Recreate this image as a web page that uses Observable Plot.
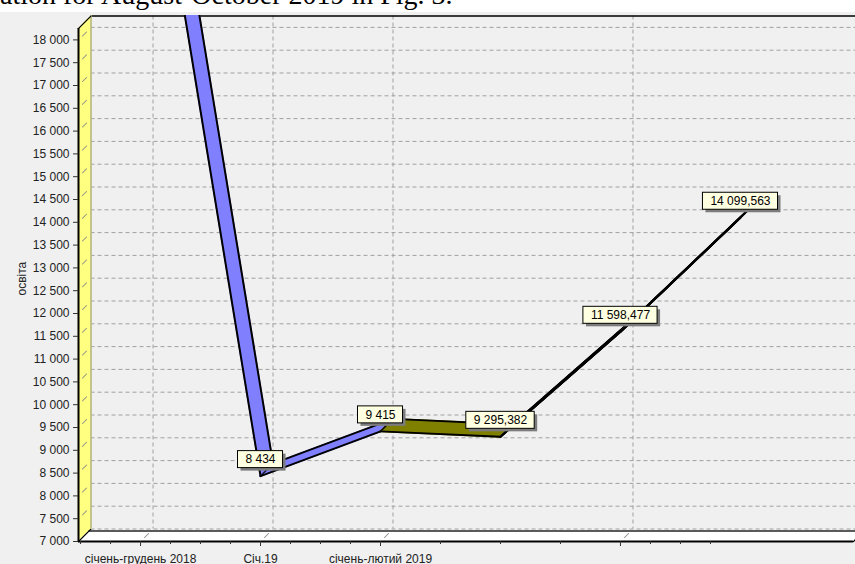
<!DOCTYPE html>
<html><head><meta charset="utf-8">
<script src="https://cdn.jsdelivr.net/npm/d3@7"></script>
<script src="https://cdn.jsdelivr.net/npm/@observablehq/plot@0.6"></script>
<style>
html,body{margin:0;padding:0;background:#f0f0f0;width:855px;height:564px;overflow:hidden}
#doc{height:12px;background:#fff;overflow:hidden;position:relative;margin-bottom:3px}
#doc span{position:absolute;left:0;top:-19.5px;font-size:28px;line-height:28px;font-family:"Liberation Serif","Times New Roman",serif;white-space:nowrap;color:#000}
#chart{width:855px;height:549px;overflow:hidden}
</style></head><body>
<div id="doc"><span>ation for August-October 2019 in Fig. 3.</span></div>
<div id="chart"></div>
<script>
// ---- data ----
const categories = ["січень-грудень 2018", "Січ.19", "січень-лютий 2019", "", "", ""];
const values = [24450, 8434, 9415, 9295.382, 11598.477, 14099.563];
const valueLabels = ["", "8 434", "9 415", "9 295,382", "11 598,477", "14 099,563"];
const segmentColors = ["#8080ff", "#8080ff", "#808000", "#3a3a3a", "#3a3a3a"];
const yTicks = [7000, 7500, 8000, 8500, 9000, 9500, 10000, 10500, 11000, 11500, 12000, 12500,
                13000, 13500, 14000, 14500, 15000, 15500, 16000, 16500, 17000, 17500, 18000];
const xGridTicks = [0, 1, 2, 4];
const xMinorTicks = [-0.5, -0.25, 0.25, 0.5, 0.75, 1.25, 1.5, 1.75, 2.5, 3, 3.5, 4.25, 4.5, 4.75];
const yTitle = "освіта";

// ---- setup ----
const points = values.map((v, i) => ({i, v, label: valueLabels[i]}));
const D = 12.5;                       // 3D depth in px
const X0 = -0.517, X1 = 5.942, Y0 = 7000, Y1 = 18250;
const steps = (max, step, min = 0) => d3.range(min, max + 1e-9, step);
const fmt = d => d3.format(",")(d).replace(/,/g, " ");
const grid = {stroke: "#a0a0a0", strokeDasharray: "4,3", strokeWidth: 1};
const marks = [];

// back wall gridlines
marks.push(Plot.ruleY(yTicks, {y: d => d, dx: D, dy: -D, ...grid}));
marks.push(Plot.ruleX(xGridTicks, {x: d => d, dx: D, dy: -D, ...grid}));
marks.push(Plot.ruleY([Y1], {dx: D, dy: -D, stroke: "#000", strokeWidth: 1.5}));

// left wall
for (const k of steps(D, 0.5)) marks.push(Plot.ruleX([X0], {dx: k, dy: -k, stroke: "#ffff80", strokeWidth: 1.5}));
marks.push(Plot.ruleX([X0], {dx: D, dy: -D, stroke: "#8a8a8a", strokeWidth: 1}));
for (const k of steps(8, 0.5, 4)) marks.push(Plot.dot(yTicks, {x: () => X0, y: d => d, r: 0.5, fill: "#8c8c8c", dx: k, dy: -k}));

// floor
for (const k of steps(10, 0.5)) marks.push(Plot.ruleY([Y0], {dx: k, dy: -k, stroke: "#fff", strokeWidth: 1.5}));
marks.push(Plot.ruleY([Y0], {dx: 10.5, dy: -10.5, stroke: "#5a5a5a", strokeWidth: 2}));
for (const k of steps(8, 0.5, 4)) marks.push(Plot.dot(xGridTicks, {x: d => d, y: () => Y0, r: 0.5, fill: "#8c8c8c", dx: k, dy: -k}));

// box corners
for (const k of steps(D, 1)) {
  marks.push(Plot.dot([[X0, Y1], [X0, Y0], [X1, Y0]], {x: d => d[0], y: d => d[1], r: 0.8, fill: "#000", dx: k, dy: -k}));
}

// series ribbons
for (let s = 0; s < points.length - 1; s++) {
  const seg = [points[s], points[s + 1]];
  const color = segmentColors[s];
  for (const k of steps(D, 0.5)) marks.push(Plot.line(seg, {x: "i", y: "v", stroke: color, strokeWidth: 1.6, dx: k, dy: -k}));
  marks.push(Plot.line(seg, {x: "i", y: "v", stroke: "#000", strokeWidth: 2}));
  marks.push(Plot.line(seg, {x: "i", y: "v", stroke: "#000", strokeWidth: 2, dx: D, dy: -D}));
  for (const k of steps(D, 1)) marks.push(Plot.dot(seg, {x: "i", y: "v", r: 0.8, fill: "#000", dx: k, dy: -k}));
}

// front axes
marks.push(Plot.ruleX([X0], {stroke: "#000", strokeWidth: 2}));
marks.push(Plot.ruleY([Y0], {stroke: "#000", strokeWidth: 2}));
marks.push(Plot.axisY(yTicks, {tickSize: 5, tickPadding: 4, tickFormat: fmt, label: null, fill: "#222", stroke: "#333"}));
marks.push(Plot.axisX(xGridTicks, {tickSize: 5, tickPadding: 7.5, tickFormat: i => categories[i], label: null, fill: "#222", stroke: "#333"}));
marks.push(Plot.axisX(xMinorTicks, {tickSize: 3, tickPadding: 0, tickFormat: () => "", label: null, stroke: "#333"}));

// value marks
const ctx = document.createElement("canvas").getContext("2d");
ctx.font = "12px Arial, 'Liberation Sans', sans-serif";
for (const p of points) {
  if (!p.label || p.v > Y1) continue;
  const w = ctx.measureText(p.label).width + 15;
  const box = {x1: "i", x2: "i", y1: "v", y2: "v", insetLeft: -w / 2, insetRight: -w / 2, insetTop: -25, insetBottom: 8};
  marks.push(Plot.rect([p], {...box, fill: "#7c7c7c", dx: 3, dy: 3}));
  marks.push(Plot.rect([p], {...box, fill: "#ffffe1", stroke: "#000", strokeWidth: 1}));
  marks.push(Plot.text([p], {x: "i", y: "v", text: "label", dy: -16.5, fontSize: 12, fill: "#000"}));
}

// y title
marks.push(Plot.text([yTitle], {frameAnchor: "left", dx: -56.5, dy: 10.5, rotate: -90, fontSize: 12, fill: "#222"}));

const chart = Plot.plot({
  width: 855, height: 549,
  marginLeft: 78, marginRight: 2, marginTop: 13, marginBottom: 23,
  x: {type: "linear", domain: [X0, X1], axis: null},
  y: {type: "linear", domain: [Y0, Y1], axis: null},
  style: {background: "#f0f0f0", fontFamily: "Arial, 'Liberation Sans', sans-serif", fontSize: "12px", color: "#222", overflow: "hidden"},
  marks
});
document.getElementById("chart").appendChild(chart);
</script>
</body></html>
